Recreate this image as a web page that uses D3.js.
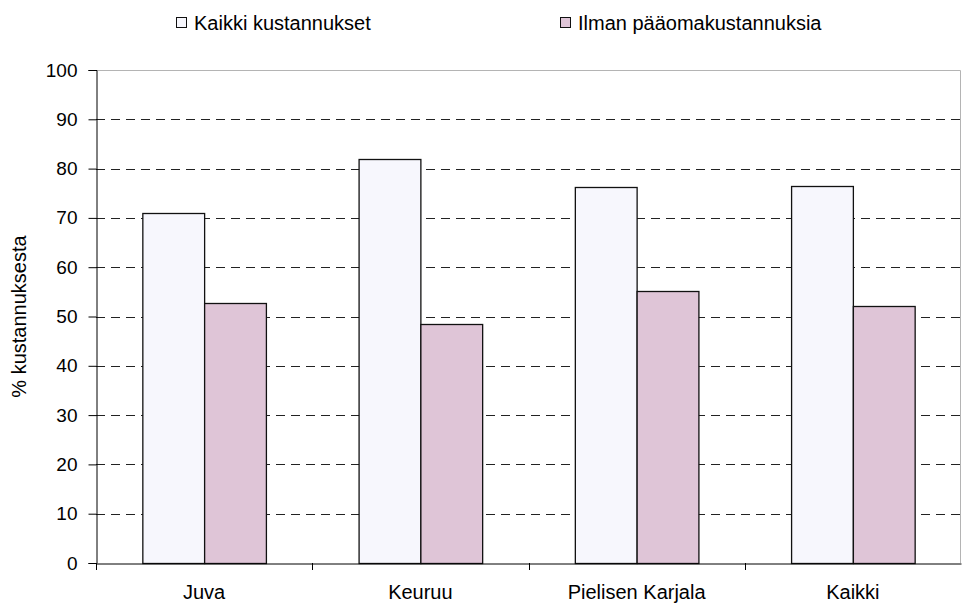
<!DOCTYPE html>
<html>
<head>
<meta charset="utf-8">
<script src="https://cdn.jsdelivr.net/npm/d3@7"></script>
<style>
  body { margin: 0; background: #fff; }
  svg { font-family: "Liberation Sans", Arial, sans-serif; }
</style>
</head>
<body>
<svg id="chart"></svg>
<script>
const categories = ['Juva', 'Keuruu', 'Pielisen Karjala', 'Kaikki'];
const seriesNames = ['Kaikki kustannukset', 'Ilman pääomakustannuksia'];
const allCosts = [71.0, 81.9, 76.3, 76.5];
const withoutCapital = [52.8, 48.4, 55.2, 52.2];
const yTicks = [0, 10, 20, 30, 40, 50, 60, 70, 80, 90, 100];

const width = 962, height = 603;
const margin = { top: 70, right: 1, bottom: 40, left: 96 };
const innerW = width - margin.left - margin.right;
const innerH = height - margin.top - margin.bottom;
const fontFam = '"Liberation Sans", Arial, sans-serif';

const svg = d3.select('#chart').attr('width', width).attr('height', height);
const chart = svg.append('g').attr('transform', `translate(${margin.left},${margin.top})`);

const rows = categories.map((c, i) => ({ cat: c, values: [allCosts[i], withoutCapital[i]] }));
const colors = ['#f7f7fd', '#dfc5d7'];

const x0 = d3.scaleBand().domain(categories).range([0, innerW]).padding(0);
const x1 = d3.scaleBand().domain(d3.range(seriesNames.length)).range([0, x0.bandwidth()])
  .paddingInner(0).paddingOuter(0.75);
const y = d3.scaleLinear().domain([0, 100]).range([innerH, 0]);

// plot frame (top + right) in light grey
chart.append('path')
  .attr('d', `M0,0.5H${innerW - 0.5}V${innerH}`)
  .attr('fill', 'none').attr('stroke', '#b4b4b4');

// dashed gridlines
chart.append('g').selectAll('line')
  .data(yTicks.filter(t => t > 0 && t < 100))
  .join('line')
  .attr('x1', 0).attr('x2', innerW)
  .attr('y1', d => Math.round(y(d)) + 0.5).attr('y2', d => Math.round(y(d)) + 0.5)
  .attr('stroke', '#222').attr('stroke-dasharray', '9,6');

// bars
const groups = chart.append('g').selectAll('g')
  .data(rows).join('g')
  .attr('transform', d => `translate(${x0(d.cat)},0)`);

groups.selectAll('rect')
  .data(d => d.values.map((v, i) => ({ v, i })))
  .join('rect')
  .attr('x', d => x1(d.i) + 0.5)
  .attr('y', d => Math.round(y(d.v)) + 0.5)
  .attr('width', x1.bandwidth())
  .attr('height', d => innerH - Math.round(y(d.v)))
  .attr('fill', d => colors[d.i])
  .attr('stroke', '#111').attr('stroke-width', 1.3);

// y axis
const yAxis = d3.axisLeft(y).tickValues(yTicks).tickSize(8).tickPadding(11);
const yAxisG = chart.append('g').attr('transform', 'translate(0.5,0)').call(yAxis);
yAxisG.select('.domain').attr('stroke', '#000');
yAxisG.selectAll('.tick line').attr('stroke', '#000');
yAxisG.selectAll('text').attr('font-size', 19).attr('fill', '#000')
  .attr('font-family', fontFam);

// x axis
const xAxis = d3.axisBottom(x0).tickSize(0).tickPadding(21);
const xAxisG = chart.append('g').attr('transform', `translate(0,${innerH + 0.5})`).call(xAxis);
xAxisG.select('.domain').attr('stroke', '#000');
xAxisG.selectAll('text').attr('font-size', 20).attr('fill', '#000')
  .attr('font-family', fontFam);

// x category separators below the axis
chart.append('g').selectAll('line')
  .data(categories)
  .join('line')
  .attr('x1', d => Math.round(x0(d)) + 0.5).attr('x2', d => Math.round(x0(d)) + 0.5)
  .attr('y1', innerH).attr('y2', innerH + 7)
  .attr('stroke', '#000');

// y axis title
svg.append('text')
  .attr('transform', `translate(26,${margin.top + innerH / 2}) rotate(-90)`)
  .attr('text-anchor', 'middle')
  .attr('font-size', 20)
  .text('% kustannuksesta');

// legend
const legendX = [176, 560];
const legend = svg.append('g').selectAll('g')
  .data(seriesNames).join('g')
  .attr('transform', (d, i) => `translate(${legendX[i]},17)`);
legend.append('rect')
  .attr('x', 0.5).attr('y', 0.5).attr('width', 10).attr('height', 10)
  .attr('fill', (d, i) => colors[i]).attr('stroke', '#111');
legend.append('text')
  .attr('x', 18).attr('y', 13)
  .attr('font-size', 20)
  .text(d => d);
</script>
</body>
</html>
